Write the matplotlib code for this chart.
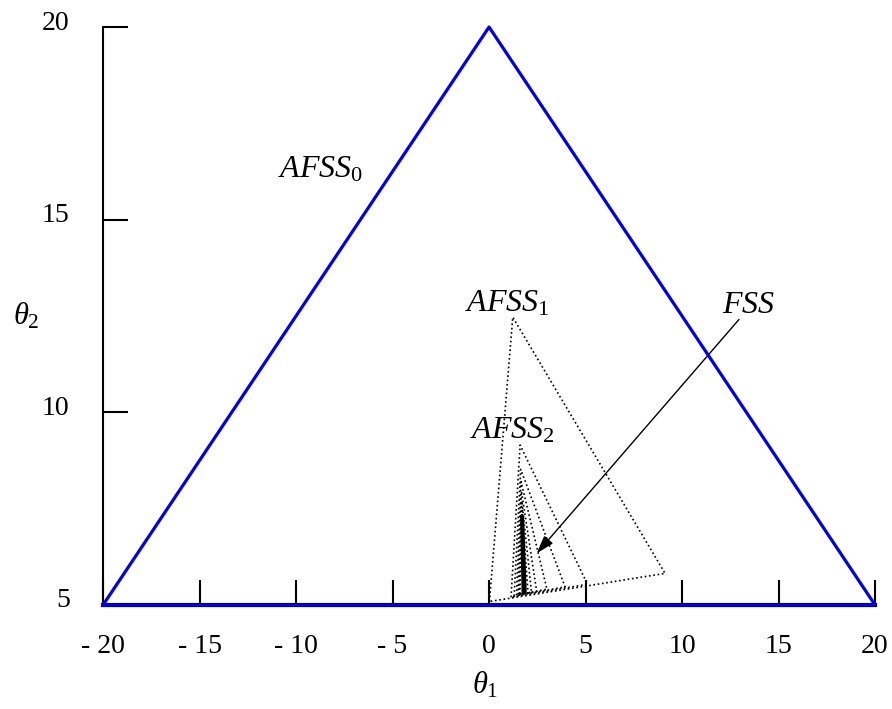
import matplotlib
matplotlib.use("Agg")
import matplotlib.pyplot as plt
import matplotlib.transforms as mtransforms
from matplotlib.patches import Polygon

plt.rcParams['font.family'] = ['Liberation Serif', 'DejaVu Serif']
plt.rcParams['mathtext.fontset'] = 'custom'
plt.rcParams['mathtext.rm'] = 'Liberation Serif'
plt.rcParams['mathtext.it'] = 'Liberation Serif:italic'

# outer feasible set (blue)
afss0_x = [-20, 0, 20, -20]
afss0_y = [5, 20, 5, 5]

# shrinking dotted triangles: (left, apex, right) vertices
tri_x = [
    [0.02, 1.23, 9.12],
    [1.14, 1.61, 5.10],
    [1.30, 1.64, 3.94],
    [1.42, 1.66, 3.00],
    [1.50, 1.68, 2.47],
    [1.55, 1.70, 2.20],
    [1.60, 1.71, 2.02],
]
tri_y = [
    [5.09, 12.47, 5.82],
    [5.20, 9.15, 5.54],
    [5.23, 8.52, 5.47],
    [5.25, 8.20, 5.41],
    [5.27, 7.95, 5.35],
    [5.28, 7.70, 5.33],
    [5.29, 7.50, 5.31],
]

# final feasible set sliver
fss_x = [1.66, 1.76, 1.90, 1.74]
fss_y = [7.30, 7.30, 5.33, 5.30]

xticks = [-20, -15, -10, -5, 0, 5, 10, 15, 20]
xticklabels = ["- 20", "- 15", "- 10", "- 5", "0", "5", "10", "15", "20"]
yticks = [5, 10, 15, 20]

fig = plt.figure(figsize=(8.92, 7.09), dpi=100)
ax = fig.add_axes([0.1155, 0.1467, 0.8655, 0.8152])

ax.plot(afss0_x, afss0_y, color="#0000ee", lw=2.3, clip_on=False, zorder=5)

for tx, ty in zip(tri_x, tri_y):
    ax.plot(tx + [tx[0]], ty + [ty[0]], color="black", lw=1.2, ls=(0, (1, 1.6)), zorder=3)

ax.add_patch(Polygon(list(zip(fss_x, fss_y)), closed=True, facecolor="black",
                     edgecolor="black", lw=1.5, zorder=4))

ax.annotate("", xy=(2.47, 6.34), xytext=(12.95, 12.41),
            arrowprops=dict(arrowstyle="-|>,head_length=1.1,head_width=0.35",
                            color="black", lw=1.0, shrinkA=0, shrinkB=0))

ax.text(-10.92, 16.10, r"$AFSS_{\mathrm{0}}$", fontsize=23, ha="left", va="baseline")
ax.text(-1.24, 12.61, r"$AFSS_{\mathrm{1}}$", fontsize=23, ha="left", va="baseline")
ax.text(-0.98, 9.33, r"$AFSS_{\mathrm{2}}$", fontsize=23, ha="left", va="baseline")
ax.text(12.06, 12.57, r"$FSS$", fontsize=23, ha="left", va="baseline")

ax.set_xlim(-20, 20)
ax.set_ylim(5, 20)
ax.set_xticks(xticks)
ax.set_xticklabels(xticklabels)
ax.set_yticks(yticks)

for s in ["top", "right"]:
    ax.spines[s].set_visible(False)
ax.spines["left"].set_linewidth(1.5)
ax.spines["bottom"].set_linewidth(3)

ax.tick_params(axis="both", direction="in", length=18, width=1.5, labelsize=20)
ax.tick_params(axis="x", pad=21)
ax.tick_params(axis="y", pad=24)

# y tick labels sit a little above their ticks in the original
shift = mtransforms.ScaledTranslation(0, 7 / 100, fig.dpi_scale_trans)
for lab in ax.get_yticklabels():
    lab.set_transform(lab.get_transform() + shift)

ax.set_xlabel(r"$\theta_{\mathrm{1}}$", fontsize=22, va="center", ha="center")
ax.xaxis.set_label_coords(0.495, -0.138)
ax.set_ylabel(r"$\theta_{\mathrm{2}}$", fontsize=22, rotation=0, va="center", ha="center")
ax.yaxis.set_label_coords(-0.1, 0.5)

fig.savefig("out.png", dpi=100)
